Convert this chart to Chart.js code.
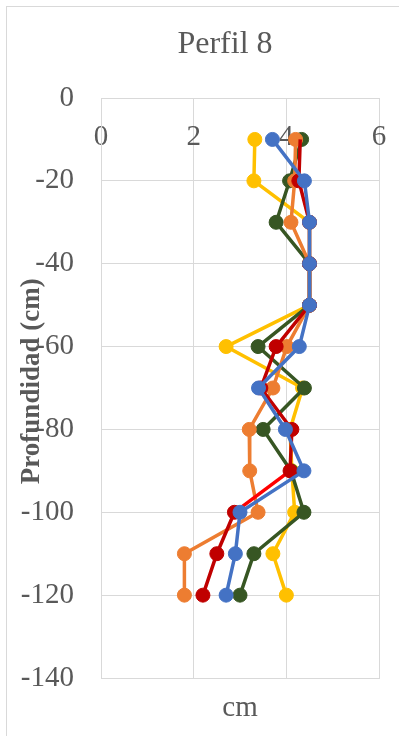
<!DOCTYPE html>
<html>
<head>
<meta charset="utf-8">
<script src="https://cdn.jsdelivr.net/npm/chart.js@4"></script>
<style>
  html, body { margin: 0; padding: 0; background: #fff; overflow: hidden; width: 399px; height: 736px; }
  #frame { position: absolute; left: 6px; top: 6px; width: 436px; height: 740px;
           border-top: 1px solid #d9d9d9; border-left: 1px solid #d9d9d9; background: #fff; }
  #c { display: block; }
</style>
</head>
<body>
<div id="frame"><canvas id="c" width="436" height="740"></canvas></div>
<script>
// Depths (cm)
const depths = [-10, -20, -30, -40, -50, -60, -70, -80, -90, -100, -110, -120];
// Series values (cm)
const greenVals  = [4.33, 4.07, 3.78, 4.5, 4.5, 3.39, 4.39, 3.5, 4.1, 4.38, 3.3, 3.0];
const redVals    = [4.3, 4.27, 4.5, 4.5, 4.5, 3.78, 3.45, 4.12, 4.08, 2.88, 2.5, 2.2];
const orangeVals = [4.2, 4.18, 4.1, 4.5, 4.5, 4.01, 3.71, 3.2, 3.21, 3.39, 1.8, 1.8];
const yellowVals = [3.32, 3.3, 4.5, 4.5, 4.5, 2.7, 4.35, 4.08, 4.12, 4.18, 3.71, 4.0];
const blueVals   = [3.7, 4.39, 4.5, 4.5, 4.5, 4.28, 3.4, 3.98, 4.38, 3.0, 2.9, 2.7];
// Axis ticks
const xTicks = [0, 2, 4, 6];
const yTicks = [0, -20, -40, -60, -80, -100, -120, -140];

const TXT = '#595959';
const GRID = '#d9d9d9';
const SERIF = "'Liberation Serif', 'Times New Roman', serif";

function pts(vals) { return depths.map((d, i) => ({ x: vals[i], y: d })); }
function ds(vals, color, order, extra) {
  return Object.assign({
    data: pts(vals),
    showLine: true,
    borderColor: color,
    backgroundColor: color,
    pointBackgroundColor: color,
    pointBorderColor: color,
    borderWidth: 3.5,
    pointRadius: 7,
    pointHoverRadius: 7,
    pointBorderWidth: 1,
    order: order
  }, extra || {});
}

new Chart(document.getElementById('c'), {
  type: 'scatter',
  data: {
    datasets: [
      ds(blueVals, '#4472C4', 0),
      ds(redVals, '#C00000', 1, {
        pointRadius: depths.map((d, i) => i === 0 ? 0 : 7),
        segment: { borderColor: c => c.p0DataIndex === 8 ? '#FF0000' : undefined }
      }),
      ds(orangeVals, '#ED7D31', 2),
      ds(greenVals, '#375623', 3),
      ds(yellowVals, '#FFC000', 4)
    ]
  },
  options: {
    responsive: false,
    animation: false,
    events: [],
    layout: { padding: { left: 0, right: 0, top: 0, bottom: 21 } },
    plugins: {
      legend: { display: false },
      tooltip: { enabled: false },
      title: {
        display: true,
        text: 'Perfil 8',
        color: TXT,
        font: { family: SERIF, size: 32, weight: 'normal', lineHeight: 1.2 },
        padding: { top: 18, bottom: 0 }
      }
    },
    scales: {
      x: {
        type: 'linear', position: 'bottom', min: 0, max: 6,
        afterBuildTicks: s => { s.ticks = xTicks.map(v => ({ value: v })); },
        ticks: { display: false },
        grid: { color: GRID, lineWidth: 1, drawTicks: false },
        border: { display: true, color: GRID, width: 1 },
        title: {
          display: true, text: 'cm', color: TXT,
          font: { family: SERIF, size: 29, weight: 'normal', lineHeight: 1.2 },
          padding: { top: 0, bottom: 0 }
        },
        afterFit: s => { s.height = 48; }
      },
      x2: {
        type: 'linear', axis: 'x', position: 'top', min: 0, max: 6, display: true,
        afterBuildTicks: s => { s.ticks = xTicks.map(v => ({ value: v })); },
        grid: { display: false, drawTicks: false },
        border: { display: false },
        ticks: {
          display: true, mirror: true,
          color: TXT, padding: 21.6,
          font: { family: SERIF, size: 29, weight: 'normal', lineHeight: 1.2 },
          maxRotation: 0, minRotation: 0, autoSkip: false
        },
        afterFit: s => { s.height = 34.6; }
      },
      y: {
        type: 'linear', position: 'left', min: -140, max: 0,
        afterBuildTicks: s => { s.ticks = yTicks.map(v => ({ value: v })); },
        grid: { color: GRID, lineWidth: 1, drawTicks: false },
        border: { display: true, color: GRID, width: 1 },
        ticks: {
          color: TXT, padding: 27,
          font: { family: SERIF, size: 29, weight: 'normal', lineHeight: 1.2 }
        },
        title: {
          display: true, text: '  Profundidad (cm)', color: TXT,
          font: { family: SERIF, size: 27, weight: 'bold', lineHeight: 1.2 },
          padding: { top: 8.5, bottom: 0 }
        },
        afterFit: s => { s.width = 94; }
      },
      y2: {
        type: 'linear', axis: 'y', position: 'right', min: -140, max: 0, display: true,
        ticks: { display: false },
        grid: { display: false, drawTicks: false },
        border: { display: false },
        afterFit: s => { s.width = 64; }
      }
    }
  }
});
</script>
</body>
</html>
